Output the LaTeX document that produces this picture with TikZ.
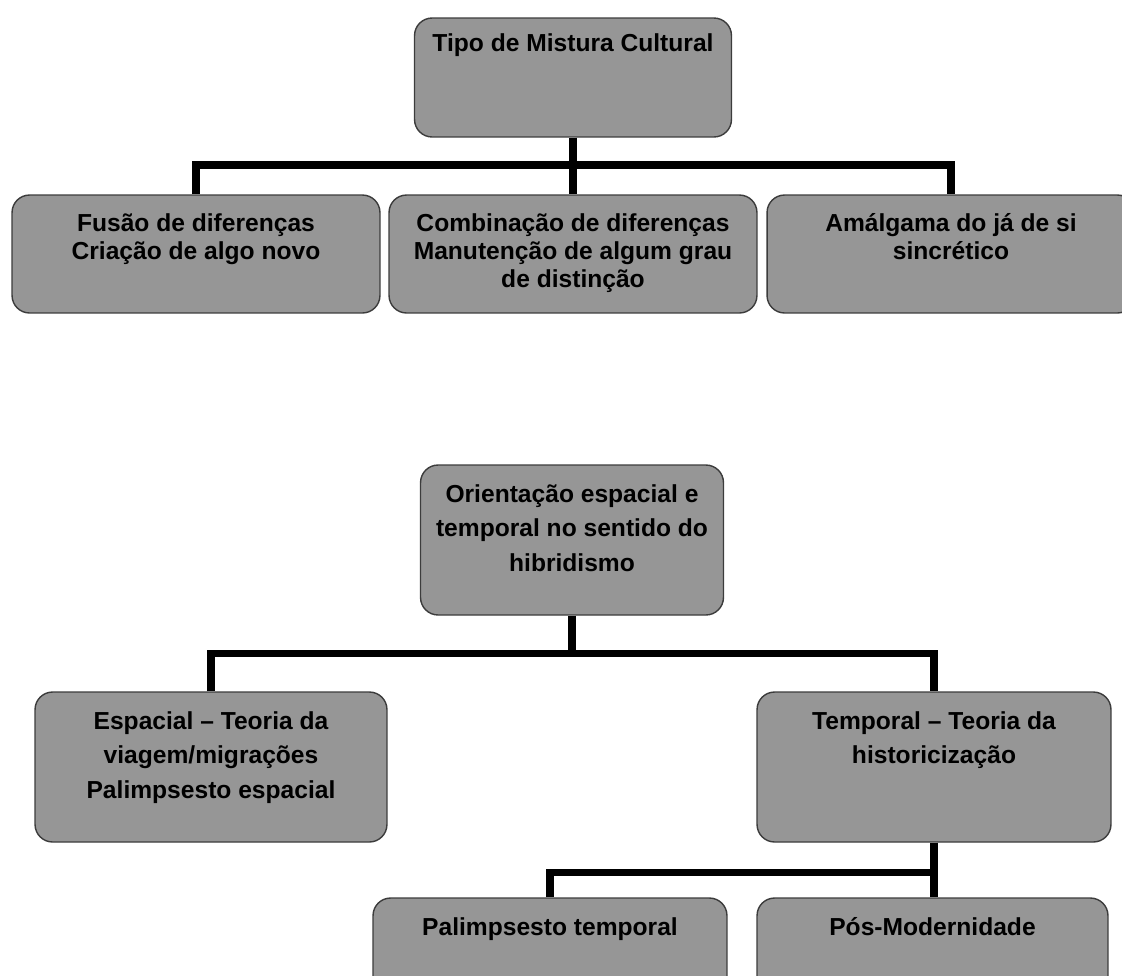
\documentclass[tikz,border=0pt]{standalone}
\usepackage{fontspec}
\setmainfont{Liberation Sans}
\usepackage{tikz}
\usetikzlibrary{positioning}
\definecolor{boxgray}{RGB}{150,150,150}
\definecolor{boxline}{RGB}{60,60,60}

\begin{document}
\begin{tikzpicture}[x=0.02cm,y=-0.02cm,
		cbox/.style={draw=boxline,line width=0.8pt,fill=boxgray,rounded corners=10pt},
		ctxt/.style={align=center,inner sep=0pt,font=\bfseries\fontsize{14}{16}\selectfont},
		ctxtb/.style={ctxt,font=\bfseries\fontsize{14}{19.5}\selectfont},
		conn/.style={line width=4pt}]
			\clip (0,0) rectangle (1122,975);
			% tipo de mistura
			\node[cbox,minimum width=6.34cm,minimum height=2.38cm] (tipo) at (573,77.5) {};
			\node[cbox,minimum width=7.36cm,minimum height=2.36cm] (fusao) at (196,254) {};
			\node[cbox,minimum width=7.36cm,minimum height=2.36cm] (comb) at (573,254) {};
			\node[cbox,minimum width=7.36cm,minimum height=2.36cm] (amalg) at (951,254) {};
			\node[ctxt,below=9pt of tipo.north] (tipo_t) {Tipo de Mistura Cultural};
			\node[ctxt,below=10.8pt of fusao.north] (fusao_t) {Fusão de diferenças\\Criação de algo novo};
			\node[ctxt,below=10.8pt of comb.north] (comb_t) {Combinação de diferenças\\Manutenção de algum grau\\de distinção};
			\node[ctxt,below=10.8pt of amalg.north] (amalg_t) {Amálgama do já de si\\sincrético};
			\coordinate (j_1) at (573,165);
			\draw[conn] (tipo.south) -- (comb.north);
			\draw[conn] (fusao.north) |- (j_1) -| (amalg.north);
			% orientacao espacial e temporal
			\node[cbox,minimum width=6.06cm,minimum height=3cm] (orient) at (572,540) {};
			\node[cbox,minimum width=7.04cm,minimum height=3cm] (espac) at (211,767) {};
			\node[cbox,minimum width=7.08cm,minimum height=3cm] (tempo) at (934,767) {};
			\node[cbox,minimum width=7.08cm,minimum height=2.36cm] (palim) at (550,957) {};
			\node[cbox,minimum width=7.02cm,minimum height=2.36cm] (posmod) at (932.5,957) {};
			\node[ctxtb,below=11.5pt of orient.north] (orient_t) {Orientação espacial e\\temporal no sentido do\\hibridismo};
			\node[ctxtb,below=11.5pt of espac.north] (espac_t) {Espacial – Teoria da\\viagem/migrações\\Palimpsesto espacial};
			\node[ctxtb,below=11.5pt of tempo.north] (tempo_t) {Temporal – Teoria da\\historicização};
			\node[ctxtb,below=11.5pt of palim.north] (palim_t) {Palimpsesto temporal};
			\node[ctxtb,below=11.5pt of posmod.north] (posmod_t) {Pós-Modernidade};
			\coordinate (j_2) at (572,653);
			\coordinate (j_3) at (934,872);
			\draw[conn] (orient.south) -- (j_2);
			\draw[conn] (espac.north) |- (j_2) -| (tempo.north);
			\draw[conn] (tempo.south) -- (j_3) -- (j_3 |- posmod.north);
			\draw[conn] (palim.north) |- (j_3);
		\end{tikzpicture}
\end{document}
